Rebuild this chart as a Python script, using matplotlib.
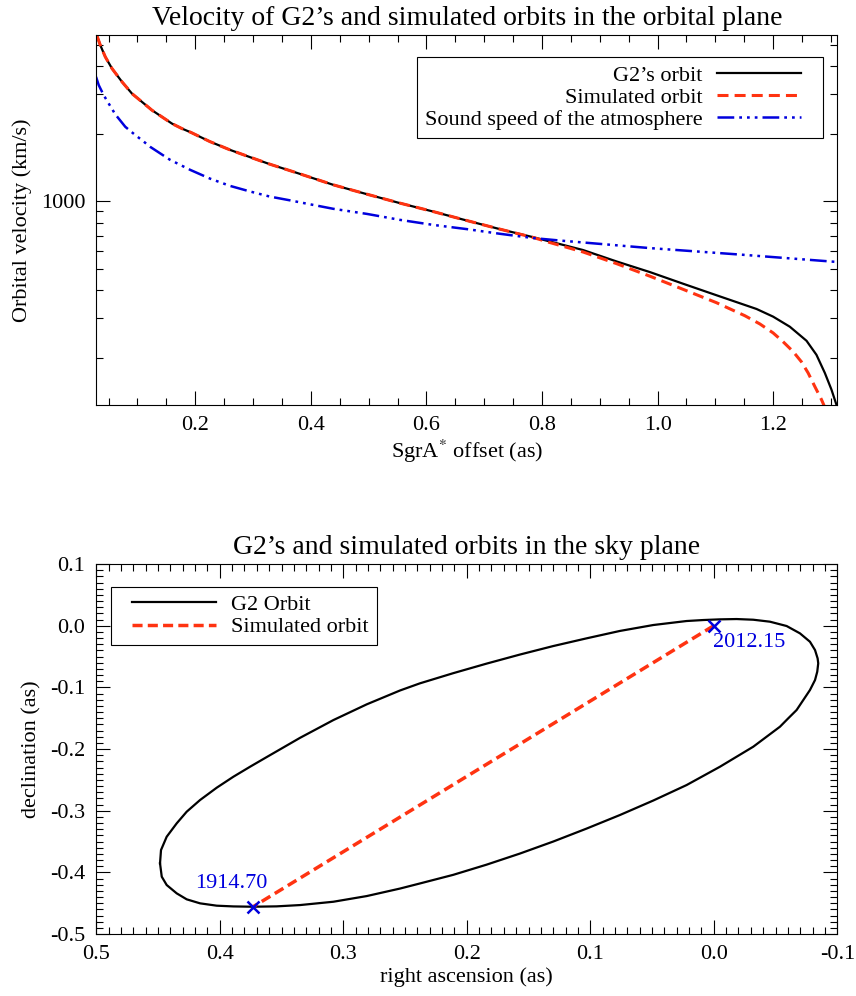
import numpy as np
import matplotlib
matplotlib.use("Agg")
from matplotlib import pyplot as plt
from matplotlib.patches import Rectangle
from matplotlib.transforms import IdentityTransform
from matplotlib.ticker import LogLocator, FixedLocator, MultipleLocator, FuncFormatter, NullFormatter

plt.rcParams['font.family'] = 'serif'
plt.rcParams['font.serif'] = ['Liberation Serif', 'DejaVu Serif']
plt.rcParams['mathtext.fontset'] = 'stix'
plt.rcParams['axes.unicode_minus'] = False

### TOP PANEL DATA: velocity vs offset ###
off_g2 = [0.0299, 0.0357, 0.0443, 0.0559, 0.0732, 0.0905, 0.1078, 0.1251, 0.1424, 0.1597,
          0.177, 0.193, 0.225, 0.260, 0.295, 0.329, 0.364, 0.395, 0.439, 0.497,
          0.554, 0.612, 0.670, 0.727, 0.785, 0.814, 0.871, 0.929, 0.987, 1.044,
          1.102, 1.1424, 1.1713, 1.200, 1.2289, 1.2578, 1.275, 1.2895, 1.301, 1.3097,
          1.311]
vel_g2 = [5470, 4965, 4405, 3908, 3409, 3020, 2773, 2546, 2377, 2219,
          2108, 2024, 1846, 1694, 1571, 1462, 1368, 1288, 1182, 1074,
          980, 898, 819, 750, 690, 660, 605, 538, 482, 428,
          380, 350, 330, 305, 275, 238, 206, 171, 144, 123,
          118]

off_sim = [0.0299, 0.0357, 0.0443, 0.0559, 0.0732, 0.0905, 0.1078, 0.1251, 0.1424, 0.1597,
           0.177, 0.193, 0.225, 0.260, 0.295, 0.329, 0.364, 0.395, 0.439, 0.497,
           0.554, 0.612, 0.670, 0.727, 0.785, 0.814, 0.871, 0.929, 0.987, 1.044,
           1.102, 1.151, 1.177, 1.200, 1.217, 1.2346, 1.2488, 1.2606, 1.272, 1.2837,
           1.2877, 1.289]
vel_sim = [5470, 4965, 4405, 3908, 3409, 3020, 2773, 2546, 2377, 2219,
           2108, 2024, 1846, 1694, 1571, 1462, 1368, 1288, 1182, 1074,
           980, 898, 819, 750, 688, 653, 593, 526, 462, 404,
           352, 308, 283, 258, 236, 213, 192, 171, 149, 130,
           123, 118]

off_snd = [0.0282, 0.0329, 0.0415, 0.0502, 0.0616, 0.0789, 0.0962, 0.1078, 0.1216, 0.156,
           0.191, 0.226, 0.260, 0.295, 0.329, 0.364, 0.395, 0.439, 0.497, 0.554,
           0.612, 0.670, 0.727, 0.785, 0.831, 0.987, 1.148, 1.311]
vel_snd = [3590, 3296, 2972, 2727, 2440, 2147, 1972, 1871, 1750, 1531,
           1380, 1259, 1170, 1104, 1048, 1008, 972, 924, 877, 825,
           783, 750, 715, 684, 667, 617, 576, 535]

### BOTTOM PANEL DATA: sky plane orbit ###
ra_orb = [0.4484, 0.4476, 0.443, 0.4349, 0.4268, 0.416, 0.4025, 0.389, 0.3755, 0.362,
          0.335, 0.308, 0.281, 0.254, 0.238, 0.211, 0.184, 0.157, 0.130, 0.103,
          0.076, 0.049, 0.022, 0.0085, -0.005, -0.0185, -0.032, -0.0455, -0.059, -0.0698,
          -0.0779, -0.082, -0.0841, -0.0846, -0.0838, -0.082, -0.0779, -0.0725, -0.0671, -0.0603,
          -0.0536, -0.032, -0.005, 0.022, 0.049, 0.076, 0.103, 0.130, 0.157, 0.184,
          0.211, 0.238, 0.254, 0.281, 0.308, 0.335, 0.354, 0.373, 0.389, 0.4025,
          0.416, 0.4268, 0.4349, 0.443, 0.447, 0.4484]
dec_orb = [-0.3853, -0.3638, -0.3422, -0.3205, -0.3016, -0.2827, -0.2627, -0.2449, -0.2287, -0.2130,
           -0.1818, -0.1530, -0.1275, -0.1050, -0.0935, -0.0770, -0.0615, -0.0468, -0.0330, -0.0205,
           -0.0085, 0.0011, 0.0076, 0.0092, 0.0103, 0.0108, 0.0097, 0.0065, -0.0005, -0.0124,
           -0.026, -0.0395, -0.053, -0.061, -0.0746, -0.0881, -0.1043, -0.1205, -0.1367, -0.1502,
           -0.1638, -0.1962, -0.2287, -0.2584, -0.2835, -0.3070, -0.3290, -0.3500, -0.3695, -0.3875,
           -0.4040, -0.4180, -0.4262, -0.4384, -0.4476, -0.453, -0.4551, -0.4557, -0.4552, -0.454,
           -0.4502, -0.4437, -0.434, -0.4205, -0.407, -0.3853]

ra_sim = [0.0, 0.373]
dec_sim = [0.0, -0.4557]

epochs = ['2012.15', '1914.70']
ra_ep = [0.0, 0.373]
dec_ep = [0.0, -0.4557]
ra_lab = [-0.0289, 0.3904]
dec_lab = [-0.0276, -0.4173]

RED = '#ff3311'
BLUE = '#0000dd'
FS = 16
FS_TITLE = 20

fig = plt.figure(figsize=(8.56, 9.96), dpi=100)
ax1 = fig.add_axes([0.1125, 0.5934, 0.8656, 0.3715])
ax2 = fig.add_axes([0.1125, 0.0622, 0.8656, 0.3715])

### TOP PANEL ###
ax1.plot(off_g2, vel_g2, color='black', lw=1.6, label='G2\u2019s orbit')
ax1.plot(off_sim, vel_sim, color=RED, lw=2.2, linestyle=(0, (3.6, 2)), label='Simulated orbit')
ax1.plot(off_snd, vel_snd, color=BLUE, lw=1.8,
         linestyle=(0, (6.7, 2, 1.1, 2, 1.1, 2, 1.1, 2)), label='Sound speed of the atmosphere')
ax1.set_yscale('log')
ax1.set_xlim(0.0287, 1.311)
ax1.set_ylim(123, 5520)
ax1.xaxis.set_major_locator(FixedLocator([0.2, 0.4, 0.6, 0.8, 1.0, 1.2]))
ax1.xaxis.set_minor_locator(MultipleLocator(0.05))
ax1.xaxis.set_major_formatter(FuncFormatter(lambda v, p: '%.1f' % v))
ax1.yaxis.set_major_locator(LogLocator(base=10))
ax1.yaxis.set_minor_locator(LogLocator(base=10, subs=np.arange(2, 10)))
ax1.yaxis.set_major_formatter(FuncFormatter(lambda v, p: '%d' % v))
ax1.yaxis.set_minor_formatter(NullFormatter())
ax1.set_xlabel('SgrA$^{*}$ offset (as)', fontsize=FS, labelpad=2)
ax1.set_ylabel('Orbital velocity (km/s)', fontsize=FS, labelpad=6)
ax1.set_title('Velocity of G2\u2019s and simulated orbits in the orbital plane',
              fontsize=FS_TITLE, pad=7)
leg1 = ax1.legend(loc='upper right', bbox_to_anchor=(0.9622, 0.9397), borderaxespad=0,
                  markerfirst=False, fontsize=FS, frameon=False,
                  handlelength=3.78, handletextpad=0.67, labelspacing=0.08, borderpad=0.35)

### BOTTOM PANEL ###
ax2.plot(ra_orb, dec_orb, color='black', lw=1.6, label='G2 Orbit')
ax2.plot(ra_sim, dec_sim, color=RED, lw=2.5, linestyle=(0, (2.9, 1.5)), label='Simulated orbit')
ax2.plot(ra_ep, dec_ep, linestyle='none', marker='x', color=BLUE, ms=9, mew=1.8)
for lab, xx, yy in zip(epochs, ra_lab, dec_lab):
    ax2.text(xx, yy, lab, color=BLUE, fontsize=FS, ha='center', va='center')
ax2.set_xlim(0.5, -0.1)
ax2.set_ylim(-0.5, 0.1)
ax2.xaxis.set_major_locator(MultipleLocator(0.1))
ax2.xaxis.set_minor_locator(MultipleLocator(0.01))
ax2.yaxis.set_major_locator(MultipleLocator(0.1))
ax2.yaxis.set_minor_locator(MultipleLocator(0.01))
fmt = FuncFormatter(lambda v, p: ('%.1f' % v).replace('-0.0', '0.0'))
ax2.xaxis.set_major_formatter(fmt)
ax2.yaxis.set_major_formatter(fmt)
ax2.set_xlabel('right ascension (as)', fontsize=FS, labelpad=2)
ax2.set_ylabel('declination (as)', fontsize=FS, labelpad=6)
ax2.set_title('G2\u2019s and simulated orbits in the sky plane', fontsize=FS_TITLE, pad=7)
leg2 = ax2.legend(loc='upper left', bbox_to_anchor=(0.0383, 0.9386), borderaxespad=0,
                  fontsize=FS, frameon=False,
                  handlelength=3.78, handletextpad=0.67, labelspacing=0.08, borderpad=0.35)

for ax in (ax1, ax2):
    ax.tick_params(which='both', direction='in', top=True, right=True, labelsize=FS)
    ax.tick_params(which='major', length=10, width=0.8, pad=8)
    ax.tick_params(which='minor', length=5, width=0.8)
    for s in ax.spines.values():
        s.set_linewidth(0.8)

### LEGEND FRAMES: wider on the line-sample side, IDL style ###
fig.canvas.draw()
r = fig.canvas.get_renderer()
bb1 = leg1.get_window_extent(r)
bb2 = leg2.get_window_extent(r)
fig.add_artist(Rectangle((bb1.x0, bb1.y0), bb1.width + 14, bb1.height, transform=IdentityTransform(),
                         fill=False, ec='black', lw=0.8))
fig.add_artist(Rectangle((bb2.x0 - 14, bb2.y0), bb2.width + 14, bb2.height, transform=IdentityTransform(),
                         fill=False, ec='black', lw=0.8))

fig.savefig('out.png', dpi=100)
